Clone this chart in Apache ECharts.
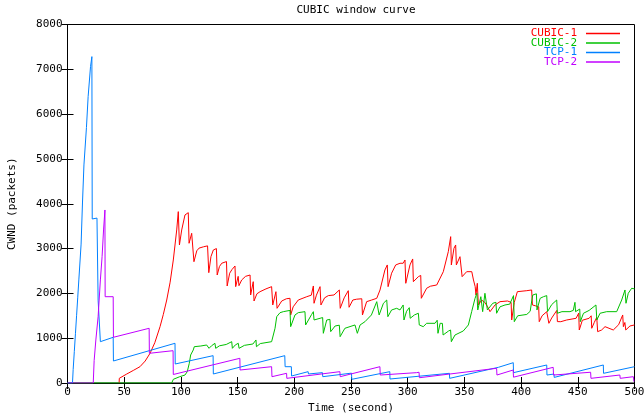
<!DOCTYPE html>
<html>
<head>
<meta charset="utf-8">
<script src="https://cdn.jsdelivr.net/npm/echarts@6/dist/echarts.min.js"></script>
<style>
html,body{margin:0;padding:0;background:#fff;}
#chart{width:644px;height:418px;}
</style>
</head>
<body>
<div id="chart"></div>
<script>
const seriesNames = ['CUBIC-1', 'CUBIC-2', 'TCP-1', 'TCP-2'];
const seriesColors = ['#ff0000', '#00c000', '#0080ff', '#c000ff'];

const cubic1 = [
[45.5,0],[45.7,105],[52.2,200],[58,280],[63.9,364],[68.5,490],[72.8,663],[77,900],[81.6,1257],[84.5,1530],[87.5,1852],[90.5,2250],[93.3,2745],[96.3,3415],[97.7,3824],[98.1,3824],[98.7,3080],[100.7,3415],[103.6,3750],[106.5,3801],[107.2,3118],[109.5,3341],[110.9,3378],[111.5,2707],[114,2950],[116,3010],[120,3040],[123.5,3060],[124.6,2462],[126.5,2820],[128.6,2968],[131.3,3000],[132,2410],[134,2600],[136,2672],[140.2,2710],[140.8,2165],[143,2450],[145,2530],[147.7,2611],[148.3,2150],[150.5,2380],[151.2,2172],[153.6,2299],[157,2380],[161,2410],[161.5,1964],[163.8,2261],[164.5,1830],[167,1990],[169.8,2038],[175,2100],[180,2150],[181,1741],[183.8,2038],[184.8,1667],[188.9,1830],[193,1880],[196.2,1890],[196.8,1518],[199,1700],[203.5,1852],[211,1926],[215,1960],[216.8,2165],[217.4,1779],[219.5,1960],[222.7,2150],[223.5,1741],[226.7,1900],[230,1950],[235,1964],[239.7,2076],[240.5,1667],[244,1900],[247.6,2060],[248.3,1690],[251.6,1852],[255,1870],[259.5,1880],[260.1,1518],[263.8,1815],[268,1850],[272.7,1890],[275.6,2076],[279.9,2522],[282,2634],[282.7,2150],[285.8,2450],[289.4,2634],[293.2,2672],[296,2672],[297.6,2745],[298.3,2225],[302,2634],[304.4,2768],[305,2261],[309.4,2373],[311.5,2400],[312,1890],[316.7,2114],[320,2160],[325.6,2187],[331.4,2484],[335.8,2931],[337.9,3266],[338.5,2634],[340.8,3006],[342.3,3080],[342.9,2634],[346.1,2819],[347.5,2800],[348,2373],[352,2484],[356.5,2484],[358,2299],[359.5,2150],[360.2,1964],[361.4,2225],[362.3,1741],[365.2,1850],[368,1800],[370.5,1700],[372.6,1592],[377,1741],[381.4,1815],[388,1830],[391.2,1800],[391.7,1406],[394,1800],[396.7,2038],[405,2060],[409.3,2076],[410,1741],[413,1720],[415.5,1700],[416,1368],[418.5,1500],[422.6,1592],[424,1600],[424.5,1332],[427,1450],[431.5,1620],[432,1370],[435,1368],[440.2,1406],[448.5,1444],[450.8,1560],[451.3,1183],[454,1400],[460,1444],[461.8,1500],[462.3,1221],[464.5,1350],[466.7,1466],[467.5,1146],[471,1183],[474,1257],[481.3,1183],[486,1300],[489.6,1518],[490.2,1257],[491.5,1350],[492.3,1183],[496,1272],[500,1295]
];

const cubic2 = [
[0,0],[91.9,0],[93.3,82],[99,141],[103.6,178],[105.6,253],[107.4,439],[108.6,625],[110.9,737],[111.8,810],[113,790],[117.6,826],[122.7,848],[124.1,886],[124.8,774],[127,830],[130,886],[130.7,774],[134,830],[140,860],[144.8,922],[145.4,774],[148,850],[150.6,886],[151.3,774],[156,840],[163.5,870],[166.2,960],[166.6,810],[170,880],[180,922],[183,1221],[184.5,1480],[187.4,1569],[190.3,1592],[196.2,1620],[196.8,1257],[200.6,1518],[203.5,1570],[209.4,1592],[210,1295],[215.3,1530],[216.8,1592],[217.4,1406],[222.7,1444],[225,1460],[225.6,1109],[228.6,1406],[231.4,1420],[232.1,1146],[236,1272],[239.7,1290],[240.4,1034],[244.6,1221],[253.5,1295],[255,1330],[255.6,1109],[258,1295],[262.3,1368],[268,1518],[272.7,1815],[274.1,1852],[274.8,1518],[278.6,1779],[281.5,1852],[282.5,1480],[285.8,1630],[290.3,1667],[293.2,1630],[296,1741],[296.7,1406],[299,1600],[301.4,1681],[302.2,1444],[306,1520],[309.4,1556],[310.2,1295],[313.7,1257],[316.7,1332],[324.1,1332],[326,1400],[326.7,1109],[328.6,1332],[330.6,1330],[331.2,1071],[336,1160],[337.8,1183],[338.5,922],[341.7,1071],[349,1161],[353.5,1295],[356.4,1592],[359.4,1890],[361,2002],[361.8,1630],[364.5,1926],[365.5,1900],[366.1,1592],[368.1,2002],[369.6,2038],[370.3,1630],[375,1779],[377.8,1800],[378.4,1556],[381.4,1700],[385.8,1741],[390,1760],[393.3,1950],[394,1368],[397,1500],[405,1530],[408,1600],[409.5,1850],[410.3,1964],[413.5,1990],[414,1630],[416.8,1890],[419.7,1926],[422.6,1950],[423.3,1592],[427,1750],[431.4,1852],[432,1556],[436,1592],[443.1,1592],[446,1620],[447.5,1800],[448,1592],[449.5,1600],[451.7,1650],[452.2,1368],[455,1556],[460,1620],[466,1741],[466.8,1406],[469.6,1556],[475.5,1592],[484.3,1592],[488.7,1852],[491.6,2076],[492.5,1779],[494.5,2002],[497.5,2114],[500,2100]
];

const tcp1 = [
[0,0],[4.4,0],[5,300],[6,700],[7,1100],[8,1500],[9,1900],[10,2300],[11,2700],[12,3100],[13.2,4017],[14.5,4866],[16.7,5700],[18.2,6390],[20.3,7060],[21.5,7283],[21.8,3660],[26,3680],[27,1850],[28,1850],[29,922],[40.3,1020],[40.5,491],[94.8,886],[95,424],[128.4,610],[128.6,201],[191.6,610],[191.9,364],[197.4,364],[197.6,156],[212.2,253],[212.5,201],[224.8,231],[225.1,141],[250.4,220],[250.7,82],[284.2,253],[284.4,89],[336.8,216],[337,104],[380,350],[380.2,380],[393.1,453],[393.3,231],[422.6,402],[422.8,178],[429,200],[429.2,125],[472.5,402],[472.7,216],[500,364]
];

const tcp2 = [
[0,0],[22.7,0],[23.5,500],[25,960],[27,1480],[29,2300],[30.5,2820],[31.8,3415],[33,3861],[33.2,1926],[40.3,1926],[40.5,1020],[72,1221],[72.2,663],[93.1,721],[93.3,190],[152,551],[152.2,290],[180,364],[180.3,141],[193.2,216],[193.4,104],[240.2,253],[240.5,141],[275.5,364],[275.8,178],[307.9,231],[310,240],[310.3,118],[378.4,328],[378.7,178],[393,290],[393.3,130],[428.3,350],[428.6,178],[461.3,240],[461.6,104],[487.1,178],[487.4,104],[499,141],[499.5,30],[500,30]
];

const seriesData = [cubic1, cubic2, tcp1, tcp2];

const xMin = 0, xMax = 500, xStep = 50;
const yMin = 0, yMax = 8000, yStep = 1000;
const titleText = 'CUBIC window curve';
const xName = 'Time (second)';
const yName = 'CWND (packets)';

const FONT = '"DejaVu Sans Mono", "Liberation Mono", monospace';
const chart = echarts.init(document.getElementById('chart'), null, {renderer: 'canvas'});

const tickStyle = {show: true, inside: true, length: 6, lineStyle: {color: '#000', width: 1}};
const axisLineStyle = {show: true, lineStyle: {color: '#000', width: 1}};

chart.setOption({
  animation: false,
  backgroundColor: '#ffffff',
  title: {
    text: titleText, left: 351, top: 0, textAlign: 'center',
    textStyle: {fontFamily: FONT, fontSize: 11, fontWeight: 'normal', color: '#000'}
  },
  legend: {
    orient: 'vertical', right: 19, top: 23, align: 'right', padding: 5,
    icon: 'rect', itemWidth: 34, itemHeight: 1.5, itemGap: -1.5,
    textStyle: {fontFamily: FONT, fontSize: 11, lineHeight: 9.5, padding: [0, 4, 0, 0]},
    data: seriesNames.map((n, i) => ({name: n, textStyle: {color: seriesColors[i]}}))
  },
  grid: {left: 67.5, right: 9.5, top: 24.5, bottom: 35, show: true, borderColor: '#000', borderWidth: 1,
         backgroundColor: '#fff', containLabel: false, outerBoundsMode: 'none'},
  xAxis: [{
    type: 'value', min: xMin, max: xMax, interval: xStep, position: 'bottom',
    name: xName, nameLocation: 'middle', nameGap: 19,
    nameTextStyle: {fontFamily: FONT, fontSize: 11, color: '#000'},
    axisLine: axisLineStyle, axisTick: tickStyle, splitLine: {show: false},
    axisLabel: {fontFamily: FONT, fontSize: 11, color: '#000', margin: 4, showMaxLabel: true,
                formatter: v => String(v)}
  }, {
    type: 'value', min: xMin, max: xMax, interval: xStep, position: 'top',
    axisLine: axisLineStyle, axisTick: tickStyle, splitLine: {show: false}, axisLabel: {show: false}
  }],
  yAxis: [{
    type: 'value', min: yMin, max: yMax, interval: yStep, position: 'left',
    name: yName, nameLocation: 'middle', nameGap: 50, nameRotate: 90,
    nameTextStyle: {fontFamily: FONT, fontSize: 11, color: '#000'},
    axisLine: axisLineStyle, axisTick: tickStyle, splitLine: {show: false},
    axisLabel: {fontFamily: FONT, fontSize: 11, color: '#000', margin: 5, formatter: v => String(v)}
  }, {
    type: 'value', min: yMin, max: yMax, interval: yStep, position: 'right',
    axisLine: axisLineStyle, axisTick: tickStyle, splitLine: {show: false}, axisLabel: {show: false}
  }],
  series: seriesNames.map((n, i) => ({
    name: n, type: 'line', data: seriesData[i], xAxisIndex: 0, yAxisIndex: 0,
    showSymbol: false, symbol: 'none', color: seriesColors[i],
    lineStyle: {width: 1, color: seriesColors[i]}, silent: true
  }))
});
</script>
</body>
</html>
